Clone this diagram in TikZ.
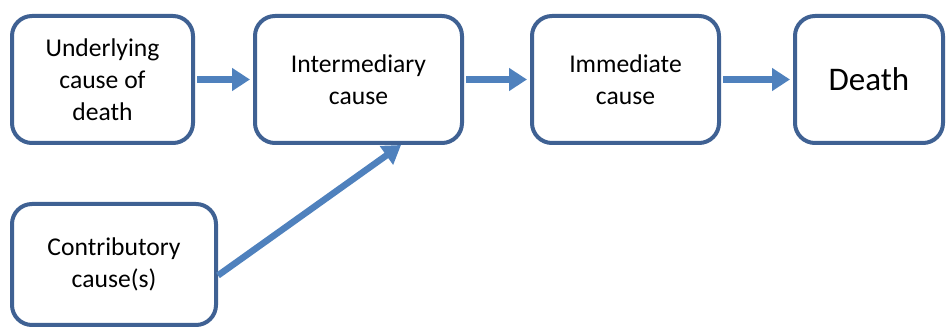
\documentclass[tikz,border=0pt]{standalone}
\usepackage{fontspec}
\setmainfont{Carlito}
\usepackage{xcolor}
\usetikzlibrary{arrows.meta}
\definecolor{boxblue}{HTML}{3F6193}
\definecolor{arrowblue}{HTML}{4F81BD}

\begin{document}
\begin{tikzpicture}[x=1pt,y=-1pt,
	cause node/.style={rectangle, rounded corners=20pt, draw=boxblue, line width=4pt, fill=white, align=center, inner sep=0pt, font=\fontsize{25.6}{32}\selectfont},
	flow/.style={arrowblue, line width=6.5pt, -{Triangle[length=18pt,width=22pt]}, shorten >=3pt, shorten <=2pt}]
			\useasboundingbox (0,0) rectangle (946,328);
			% Nodes
			\node[cause node, minimum width=181pt, minimum height=127pt] (under) at (102.5,79.5) {Underlying\\cause of\\death};
			\node[cause node, minimum width=207pt, minimum height=127pt] (inter) at (358.5,79.5) {Intermediary\\cause};
			\node[cause node, minimum width=187pt, minimum height=127pt] (immed) at (625.5,79.5) {Immediate\\cause};
			\node[cause node, minimum width=148pt, minimum height=127pt, font=\fontsize{33}{40}\selectfont] (death) at (869,79.5) {Death};
			\node[cause node, minimum width=204pt, minimum height=121pt] (contrib) at (114,264.5) {Contributory\\cause(s)};
			
			% Arrows
			\path[flow]
			(under) edge (inter)
			(inter) edge (immed)
			(immed) edge (death);
			
			\draw[flow, shorten <=0pt, shorten >=0pt] (contrib.-6) -- (inter.-57);
			
		\end{tikzpicture}
\end{document}
